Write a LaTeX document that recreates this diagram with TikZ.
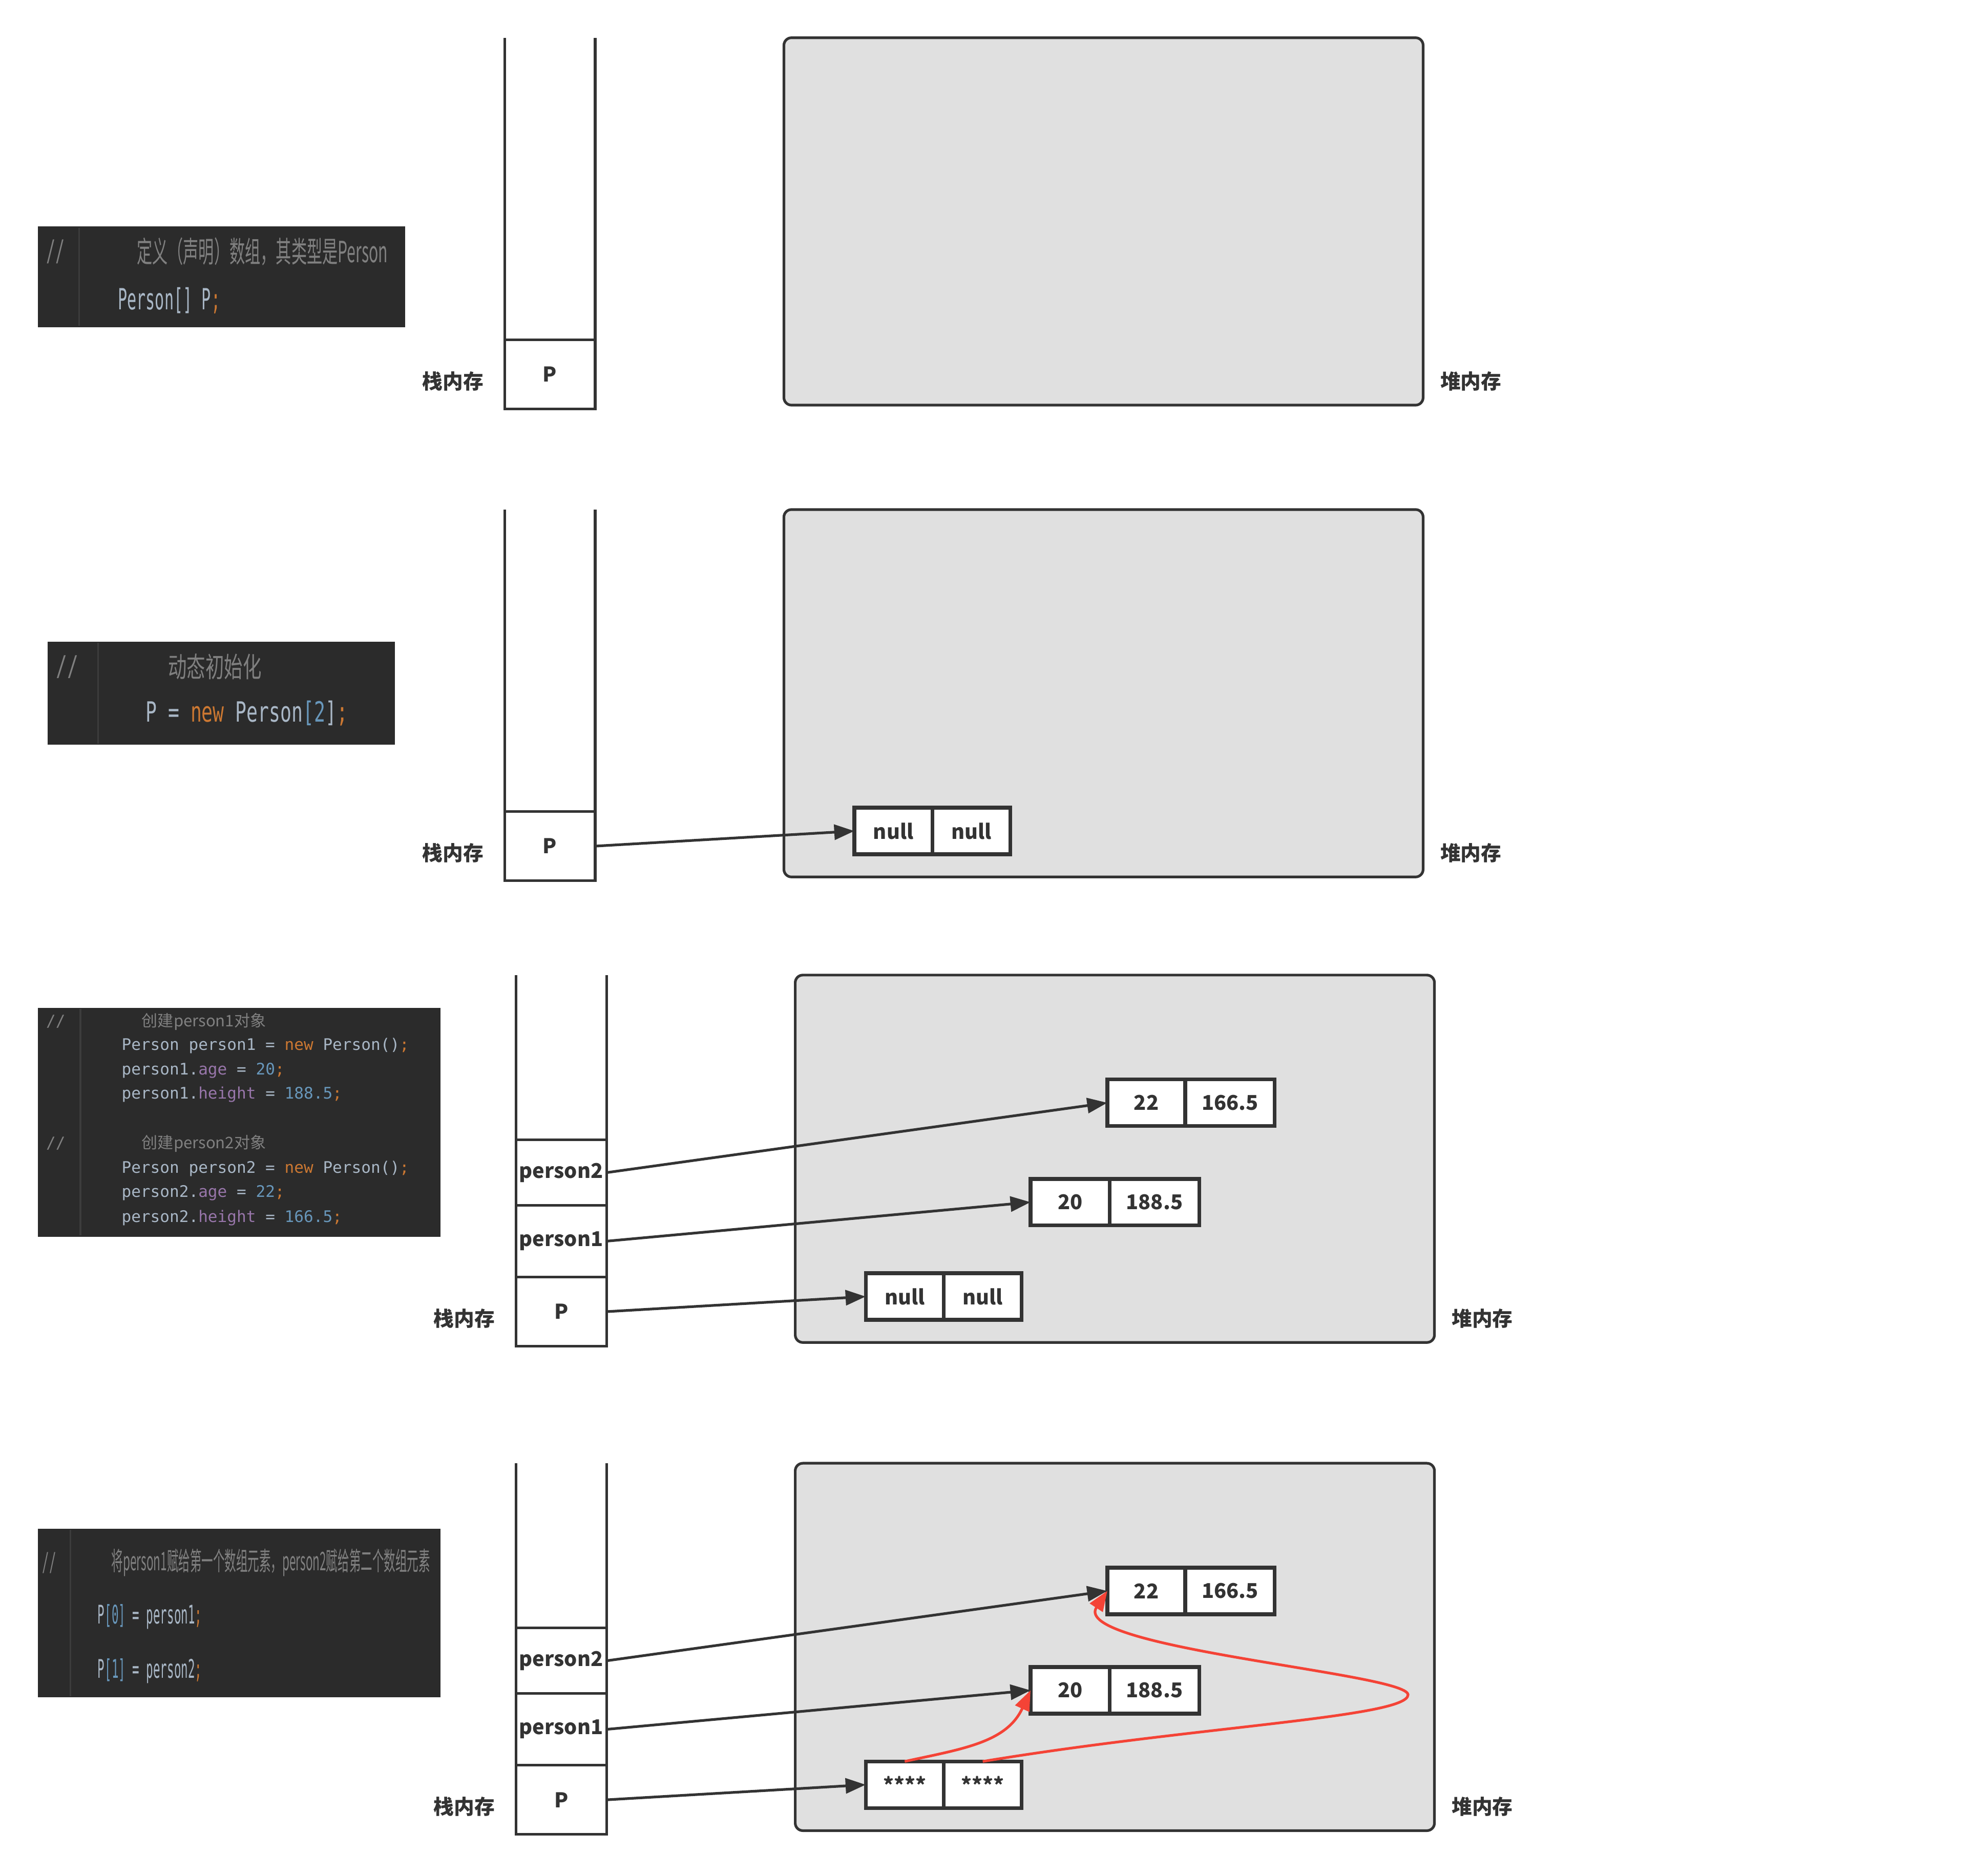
\documentclass[tikz,border=0pt]{standalone}
\usepackage{fontspec}
\setmainfont{Noto Sans CJK SC}
\newfontfamily\cjk{Noto Sans CJK SC}
\setmonofont{DejaVu Sans Mono}
\usetikzlibrary{arrows.meta, positioning}
\definecolor{ink}{HTML}{333333}
\definecolor{heapfill}{HTML}{E0E0E0}
\definecolor{codebg}{HTML}{2B2B2B}
\definecolor{gutter}{HTML}{3C3C3C}
\definecolor{cmt}{HTML}{808080}
\definecolor{plain}{HTML}{A9B7C6}
\definecolor{kw}{HTML}{CC7832}
\definecolor{num}{HTML}{6897BB}
\definecolor{fld}{HTML}{9876AA}
\definecolor{redline}{HTML}{F44336}
\newcommand{\sqz}[2]{\scalebox{#1}[1]{#2}}

\begin{document}
\begin{tikzpicture}[
    x=0.1mm, y=-0.1mm,
    stackcell/.style={rectangle, draw=ink, line width=0.6pt, minimum width=7.2mm, inner sep=0, outer sep=0, text=ink, font=\bfseries\fontsize{4.6}{5}\selectfont},
    stackline/.style={draw=ink, line width=0.6pt},
    heapbox/.style={rectangle, rounded corners=0.6mm, draw=ink, fill=heapfill, line width=0.6pt, minimum width=50.8mm, minimum height=29.2mm, inner sep=0},
    valbox/.style={rectangle, draw=ink, fill=white, line width=0.85pt, minimum height=3.7mm, inner sep=0, outer sep=0, text=ink, font=\bfseries\fontsize{4.6}{5.5}\selectfont},
    memlabel/.style={text=ink, inner sep=0, font=\bfseries\fontsize{4.6}{5}\selectfont},
    arrow/.style={-{Triangle[length=1.6mm, width=1.2mm]}, draw=ink, line width=0.6pt},
    redarrow/.style={-{Triangle[length=1.6mm, width=1.2mm]}, draw=redline, line width=0.6pt},
    codea/.style={anchor=west, inner sep=0, font=\ttfamily\fontsize{6.6}{7}\selectfont},
    codeb/.style={anchor=west, inner sep=0, font=\ttfamily\fontsize{6.3}{7}\selectfont},
    codec/.style={anchor=west, inner sep=0, font=\ttfamily\fontsize{3.6}{4}\selectfont},
    coded/.style={anchor=west, inner sep=0, font=\ttfamily\fontsize{5.8}{6}\selectfont}
]
\useasboundingbox (0,0) rectangle (1568,1491);

% code snippets
\fill[codebg] (30,180) rectangle (322,260);
\draw[gutter, line width=0.4pt] (63,181) -- (63,259);
\node[codea] (ca1) at (36,200) {\sqz{0.53}{\color{cmt}//}};
\node[codea] (ca2) at (108,200) {\sqz{0.53}{\cjk\color{cmt}定义（声明）数组，其类型是Person}};
\node[codea] (ca3) at (93,239) {\sqz{0.53}{\color{plain}Person[] P{\color{kw};}}};

\fill[codebg] (38,510) rectangle (314,592);
\draw[gutter, line width=0.4pt] (78,511) -- (78,591);
\node[codeb] (cb1) at (44,530) {\sqz{0.67}{\color{cmt}//}};
\node[codeb] (cb2) at (133,530) {\sqz{0.67}{\cjk\color{cmt}动态初始化}};
\node[codeb] (cb3) at (115,567) {\sqz{0.67}{\color{plain}P = {\color{kw}new} Person{\color{num}[2}]{\color{kw};}}};

\fill[codebg] (30,801) rectangle (350,983);
\draw[gutter, line width=0.4pt] (64,802) -- (64,982);
\node[codec] (cc1) at (36,812) {\color{cmt}//};
\node[codec] (cc2) at (112,812) {\cjk\color{cmt}创建person1对象};
\node[codec] (cc3) at (96,831) {\color{plain}Person person1 = {\color{kw}new} Person(){\color{kw};}};
\node[codec] (cc4) at (96,851) {\color{plain}person1.{\color{fld}age} = {\color{num}20}{\color{kw};}};
\node[codec] (cc5) at (96,870) {\color{plain}person1.{\color{fld}height} = {\color{num}188.5}{\color{kw};}};
\node[codec] (cc6) at (36,909) {\color{cmt}//};
\node[codec] (cc7) at (112,909) {\cjk\color{cmt}创建person2对象};
\node[codec] (cc8) at (96,929) {\color{plain}Person person2 = {\color{kw}new} Person(){\color{kw};}};
\node[codec] (cc9) at (96,948) {\color{plain}person2.{\color{fld}age} = {\color{num}22}{\color{kw};}};
\node[codec] (cc10) at (96,968) {\color{plain}person2.{\color{fld}height} = {\color{num}166.5}{\color{kw};}};

\fill[codebg] (30,1215) rectangle (350,1349);
\draw[gutter, line width=0.4pt] (56,1216) -- (56,1348);
\node[coded] (cd1) at (33,1242) {\sqz{0.45}{\color{cmt}//}};
\node[coded] (cd2) at (88,1242) {\sqz{0.45}{\cjk\color{cmt}将person1赋给第一个数组元素，person2赋给第二个数组元素}};
\node[coded] (cd3) at (77,1285) {\sqz{0.45}{\color{plain}P{\color{num}[0]} = person1{\color{kw};}}};
\node[coded] (cd4) at (77,1328) {\sqz{0.45}{\color{plain}P{\color{num}[1]} = person2{\color{kw};}}};

% declaration
\begin{scope}
\node[heapbox] (heapa) at (877,176) {};
\node[stackcell, minimum height=5.5mm] (pa) at (437,297.5) {P};
\draw[stackline] (pa.north west) -- ++(0,-240) (pa.north east) -- ++(0,-240);
\node[memlabel] (stacka) at (360,303) {栈内存};
\node[memlabel] (heapla) at (1169,303) {堆内存};
\end{scope}

% new Person[2]
\begin{scope}[shift={(0,375)}]
\node[heapbox] (heapb) at (877,176) {};
\node[stackcell, minimum height=5.5mm] (pb) at (437,297.5) {P};
\draw[stackline] (pb.north west) -- ++(0,-240) (pb.north east) -- ++(0,-240);
\node[memlabel] (stackb) at (360,303) {栈内存};
\node[memlabel] (heaplb) at (1169,303) {堆内存};
\node[valbox, minimum width=6.2mm] (nb1) at (710,285.5) {null};
\node[valbox, minimum width=6.2mm, right=0pt of nb1] (nb2) {null};
\draw[arrow] (pb.east) -- (nb1.west);
\end{scope}

% two objects
\begin{scope}[shift={(9,745)}]
\node[heapbox] (heapc) at (877,176) {};
\node[stackcell, minimum height=5.5mm] (pc) at (437,297.5) {P};
\node[stackcell, minimum height=5.7mm, above=0pt of pc] (onec) {person1};
\node[stackcell, minimum height=5.2mm, above=0pt of onec] (twoc) {person2};
\draw[stackline] (twoc.north west) -- ++(0,-131) (twoc.north east) -- ++(0,-131);
\node[memlabel] (stackc) at (360,303) {栈内存};
\node[memlabel] (heaplc) at (1169,303) {堆内存};
\node[valbox, minimum width=6.2mm] (v22c) at (902,131.5) {22};
\node[valbox, minimum width=7.1mm, right=0pt of v22c] (v166c) {166.5};
\node[valbox, minimum width=6.3mm] (v20c) at (841.5,210.5) {20};
\node[valbox, minimum width=7.1mm, right=0pt of v20c] (v188c) {188.5};
\node[valbox, minimum width=6.2mm] (nc1) at (710,285.5) {null};
\node[valbox, minimum width=6.2mm, right=0pt of nc1] (nc2) {null};
\draw[arrow] (twoc.east) -- (v22c.west);
\draw[arrow] (onec.east) -- (v20c.west);
\draw[arrow] (pc.east) -- (nc1.west);
\end{scope}

% assignment
\begin{scope}[shift={(9,1133)}]
\node[heapbox] (heapd) at (877,176) {};
\node[stackcell, minimum height=5.5mm] (pd) at (437,297.5) {P};
\node[stackcell, minimum height=5.7mm, above=0pt of pd] (oned) {person1};
\node[stackcell, minimum height=5.2mm, above=0pt of oned] (twod) {person2};
\draw[stackline] (twod.north west) -- ++(0,-131) (twod.north east) -- ++(0,-131);
\node[memlabel] (stackd) at (360,303) {栈内存};
\node[memlabel] (heapld) at (1169,303) {堆内存};
\node[valbox, minimum width=6.2mm] (v22d) at (902,131.5) {22};
\node[valbox, minimum width=7.1mm, right=0pt of v22d] (v166d) {166.5};
\node[valbox, minimum width=6.3mm] (v20d) at (841.5,210.5) {20};
\node[valbox, minimum width=7.1mm, right=0pt of v20d] (v188d) {188.5};
\node[valbox, minimum width=6.2mm] (sd1) at (710,285.5) {****};
\node[valbox, minimum width=6.2mm, right=0pt of sd1] (sd2) {****};
\draw[arrow] (twod.east) -- (v22d.west);
\draw[arrow] (oned.east) -- (v20d.west);
\draw[arrow] (pd.east) -- (sd1.west);
\draw[redarrow] (sd1.north) .. controls (756,257) and (791,252) .. (v20d.west);
\draw[redarrow] (sd2.north) .. controls (941,239) and (1110,232) .. (1110,214)
    .. controls (1110,197) and (841,177) .. (v22d.west);
\end{scope}
\end{tikzpicture}
\end{document}
